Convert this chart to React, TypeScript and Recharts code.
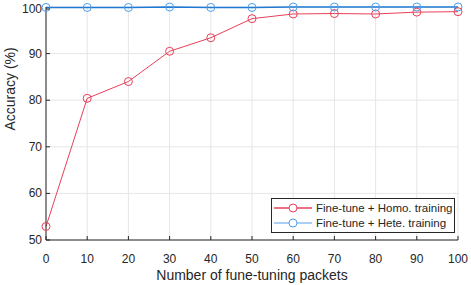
import { CartesianGrid, Line, LineChart, XAxis, YAxis } from "recharts";

const packets = [0, 10, 20, 30, 40, 50, 60, 70, 80, 90, 100];
const homoAccuracy = [52.9, 80.4, 84.0, 90.5, 93.4, 97.5, 98.5, 98.6, 98.5, 98.9, 99.0];
const heteAccuracy = [99.9, 99.9, 99.9, 100, 99.9, 99.9, 100, 100, 100, 100, 100];
const xTicks = [0, 10, 20, 30, 40, 50, 60, 70, 80, 90, 100];
const yTicks = [50, 60, 70, 80, 90, 100];

const RED = "#e8405a";
const BLUE = "#1f78d1";
const BLUE_MARK = "#4aa0ee";
const AXIS = "#262626";
const FONT = "'Liberation Sans', Arial, sans-serif";

const data = packets.map((p, i) => ({ p, homo: homoAccuracy[i], hete: heteAccuracy[i] }));

function BottomTick({ x, y, payload }: any) {
  return (
    <g>
      <line x1={x} x2={x} y1={y - 14} y2={y - 18} stroke={AXIS} strokeWidth={1} />
      <text x={x} y={y} textAnchor="middle" dominantBaseline="hanging" fontSize={12} fill={AXIS} fontFamily={FONT}>
        {payload.value}
      </text>
    </g>
  );
}

function TopTick({ x, y }: any) {
  return <line x1={x} x2={x} y1={y} y2={y + 4} stroke={AXIS} strokeWidth={1} />;
}

function LeftTick({ x, y, payload }: any) {
  return (
    <g>
      <line x1={x + 4} x2={x + 8} y1={y} y2={y} stroke={AXIS} strokeWidth={1} />
      <text x={x} y={y} textAnchor="end" dominantBaseline="central" fontSize={12} fill={AXIS} fontFamily={FONT}>
        {payload.value}
      </text>
    </g>
  );
}

function RightTick({ x, y }: any) {
  return <line x1={x} x2={x - 4} y1={y} y2={y} stroke={AXIS} strokeWidth={1} />;
}

function LegendBox() {
  const rows = [
    { name: "Fine-tune + Homo. training", line: RED, mark: RED },
    { name: "Fine-tune + Hete. training", line: "#8fbff0", mark: BLUE_MARK },
  ];
  return (
    <div
      style={{
        position: "absolute",
        left: 271,
        top: 198,
        width: 184,
        height: 35,
        border: `1px solid ${AXIS}`,
        background: "#fff",
        boxSizing: "border-box",
        fontFamily: FONT,
        fontSize: 11.5,
        color: AXIS,
        whiteSpace: "nowrap",
        paddingTop: 1,
      }}
    >
      {rows.map((r) => (
        <div key={r.name} style={{ display: "flex", alignItems: "center", height: 15 }}>
          <svg width={44} height={14} style={{ flex: "none" }}>
            <line x1={2} x2={40} y1={7} y2={7} stroke={r.line} strokeWidth={1.5} />
            <circle cx={21} cy={7} r={4} fill="#fff" stroke={r.mark} strokeWidth={1} />
          </svg>
          <span>{r.name}</span>
        </div>
      ))}
    </div>
  );
}

export default function App() {
  return (
    <div style={{ position: "absolute", left: 0, top: 0, width: 471, height: 285, background: "#fff" }}>
      <LineChart width={471} height={285} data={data} margin={{ top: 7, right: 13, left: 0, bottom: 0 }}>
        <CartesianGrid stroke="#e6e6e6" strokeWidth={1} xAxisId="b" yAxisId="l" />
        <XAxis
          xAxisId="b"
          dataKey="p"
          type="number"
          domain={[0, 100]}
          ticks={xTicks}
          height={45}
          tickSize={0}
          tickMargin={14}
          stroke={AXIS}
          tick={<BottomTick />}
          label={{ value: "Number of fune-tuning packets", position: "insideBottom", offset: 5, fontSize: 14, fill: AXIS, fontFamily: FONT }}
        />
        <XAxis
          xAxisId="t"
          orientation="top"
          dataKey="p"
          type="number"
          domain={[0, 100]}
          ticks={xTicks}
          height={0}
          tickSize={0}
          tickMargin={0}
          stroke={AXIS}
          tick={<TopTick />}
        />
        <YAxis
          yAxisId="l"
          type="number"
          domain={[50, 100]}
          ticks={yTicks}
          width={46}
          tickSize={0}
          tickMargin={4}
          stroke={AXIS}
          tick={<LeftTick />}
          label={{ value: "Accuracy (%)", angle: -90, position: "insideLeft", offset: 10, dy: 7, fontSize: 14, fill: AXIS, fontFamily: FONT }}
        />
        <YAxis
          yAxisId="r"
          orientation="right"
          type="number"
          domain={[50, 100]}
          ticks={yTicks}
          width={0}
          tickSize={0}
          tickMargin={0}
          stroke={AXIS}
          tick={<RightTick />}
        />
        <Line
          xAxisId="b"
          yAxisId="l"
          dataKey="homo"
          stroke={RED}
          strokeWidth={1}
          dot={{ r: 4, fill: "none", stroke: RED, strokeWidth: 1 }}
          isAnimationActive={false}
        />
        <Line
          xAxisId="b"
          yAxisId="l"
          dataKey="hete"
          stroke={BLUE}
          strokeWidth={1.5}
          dot={{ r: 4, fill: "none", stroke: BLUE_MARK, strokeWidth: 1 }}
          isAnimationActive={false}
        />
      </LineChart>
      <LegendBox />
    </div>
  );
}
